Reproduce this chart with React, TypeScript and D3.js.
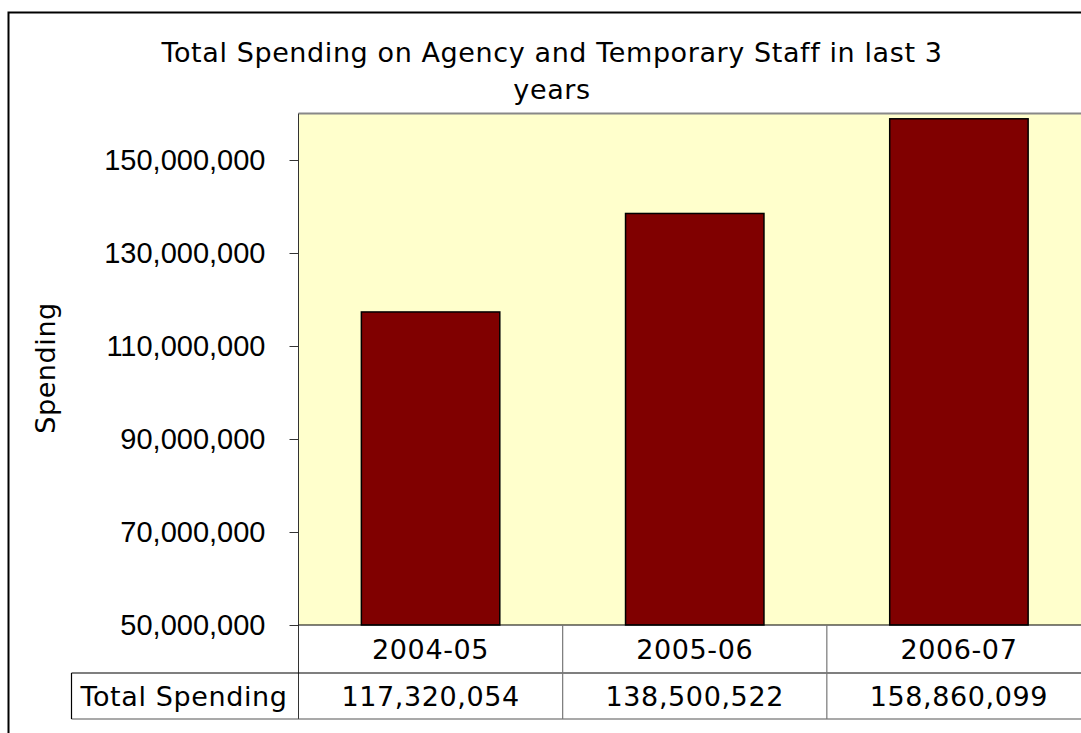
import React, { useEffect, useRef } from 'react';
import * as d3 from 'd3';

const categories = ['2004-05', '2005-06', '2006-07'];
const spending = [117320054, 138500522, 158860099];
const yTicks = [50000000, 70000000, 90000000, 110000000, 130000000, 150000000];
const titleLines = ['Total Spending on Agency and Temporary Staff in last 3', 'years'];
const rowLabel = 'Total Spending';

const W = 1081;
const H = 733;

const App: React.FC = () => {
  const svgRef = useRef<SVGSVGElement>(null);

  useEffect(() => {
    if (!svgRef.current) return;
    const svg = d3.select(svgRef.current);
    svg.selectAll('*').remove();

    const sans = '"DejaVu Sans", Verdana, sans-serif';
    const fs = '27px';
    const ls = '0.6px';
    const plot = { left: 298.5, right: 1091, top: 113.5, bottom: 625 };
    const rowH = [625, 673, 719];
    const tableLeft = 71.5;

    // outer chart border (clipped on right and bottom in the original)
    svg.append('rect')
      .attr('x', 8.5).attr('y', 12.5)
      .attr('width', 1200).attr('height', 900)
      .attr('fill', '#fff')
      .attr('stroke', '#000').attr('stroke-width', 2);

    const x = d3.scaleBand<string>()
      .domain(categories)
      .range([plot.left, plot.right])
      .paddingInner(0.476)
      .paddingOuter(0.238);

    const col = d3.scaleBand<string>()
      .domain(categories)
      .range([plot.left, plot.right])
      .padding(0);

    const y = d3.scaleLinear()
      .domain([50000000, 160000000])
      .range([plot.bottom, plot.top]);

    // plot background
    svg.append('rect')
      .attr('x', plot.left).attr('y', plot.top)
      .attr('width', plot.right - plot.left)
      .attr('height', plot.bottom - plot.top)
      .attr('fill', '#FFFFCC');

    svg.append('line')
      .attr('x1', plot.left).attr('x2', plot.right)
      .attr('y1', plot.top).attr('y2', plot.top)
      .attr('stroke', '#888').attr('stroke-width', 2);

    // bars
    svg.append('g')
      .selectAll('rect')
      .data(categories)
      .join('rect')
      .attr('x', d => x(d)!)
      .attr('width', x.bandwidth())
      .attr('y', (d, i) => y(spending[i]))
      .attr('height', (d, i) => plot.bottom - y(spending[i]))
      .attr('fill', '#800000')
      .attr('stroke', '#000')
      .attr('stroke-width', 1.5);

    // y axis
    const yAxis = svg.append('g')
      .attr('transform', `translate(${plot.left},0)`)
      .call(d3.axisLeft(y)
        .tickValues(yTicks)
        .tickSize(9)
        .tickPadding(24)
        .tickFormat(d3.format(',')));
    yAxis.select('.domain').attr('stroke', '#333').attr('d', `M0,${plot.top}V${rowH[2]}`);
    yAxis.selectAll('.tick line').attr('stroke', '#333');
    yAxis.selectAll('.tick text')
      .attr('fill', '#000')
      .style('font-family', '"Liberation Sans", Arial, sans-serif')
      .style('font-size', '29px');

    // data table
    const tbl = svg.append('g');
    tbl.append('line')
      .attr('x1', plot.left).attr('x2', plot.right)
      .attr('y1', rowH[0]).attr('y2', rowH[0])
      .attr('stroke', '#000').attr('stroke-width', 1.2);
    tbl.append('line')
      .attr('x1', tableLeft).attr('x2', plot.right)
      .attr('y1', rowH[1]).attr('y2', rowH[1])
      .attr('stroke', '#000').attr('stroke-width', 1.2);
    tbl.append('line')
      .attr('x1', tableLeft).attr('x2', plot.right)
      .attr('y1', rowH[2]).attr('y2', rowH[2])
      .attr('stroke', '#555').attr('stroke-width', 1.2);
    tbl.append('line')
      .attr('x1', tableLeft).attr('x2', tableLeft)
      .attr('y1', rowH[1]).attr('y2', rowH[2])
      .attr('stroke', '#000').attr('stroke-width', 1.2);
    tbl.selectAll('line.sep')
      .data(categories.slice(1))
      .join('line')
      .attr('class', 'sep')
      .attr('x1', d => col(d)!).attr('x2', d => col(d)!)
      .attr('y1', rowH[0]).attr('y2', rowH[2])
      .attr('stroke', '#777').attr('stroke-width', 1.2);

    tbl.selectAll('text.cat')
      .data(categories)
      .join('text')
      .attr('class', 'cat')
      .attr('x', d => col(d)! + col.bandwidth() / 2)
      .attr('y', (rowH[0] + rowH[1]) / 2)
      .attr('dy', '0.36em')
      .attr('text-anchor', 'middle')
      .style('font-family', sans)
      .style('font-size', fs)
      .style('letter-spacing', ls)
      .text(d => d);

    tbl.selectAll('text.val')
      .data(categories)
      .join('text')
      .attr('class', 'val')
      .attr('x', d => col(d)! + col.bandwidth() / 2)
      .attr('y', (rowH[1] + rowH[2]) / 2)
      .attr('dy', '0.36em')
      .attr('text-anchor', 'middle')
      .style('font-family', sans)
      .style('font-size', fs)
      .style('letter-spacing', ls)
      .text((d, i) => d3.format(',')(spending[i]));

    tbl.append('text')
      .attr('x', 80.5)
      .attr('y', (rowH[1] + rowH[2]) / 2)
      .attr('dy', '0.36em')
      .style('font-family', sans)
      .style('font-size', fs)
      .style('letter-spacing', ls)
      .text(rowLabel);

    // title
    svg.append('g')
      .selectAll('text')
      .data(titleLines)
      .join('text')
      .attr('x', 552)
      .attr('y', (d, i) => 62 + i * 37)
      .attr('text-anchor', 'middle')
      .style('font-family', sans)
      .style('font-size', fs)
      .style('letter-spacing', ls)
      .text(d => d);

    // y axis title
    svg.append('text')
      .attr('transform', `translate(55,368) rotate(-90)`)
      .attr('text-anchor', 'middle')
      .style('font-family', sans)
      .style('font-size', fs)
      .style('letter-spacing', ls)
      .text('Spending');
  }, []);

  return (
    <svg
      ref={svgRef}
      width={W}
      height={H}
      style={{ position: 'absolute', left: 0, top: 0, background: '#fff' }}
    />
  );
};

export default App;
